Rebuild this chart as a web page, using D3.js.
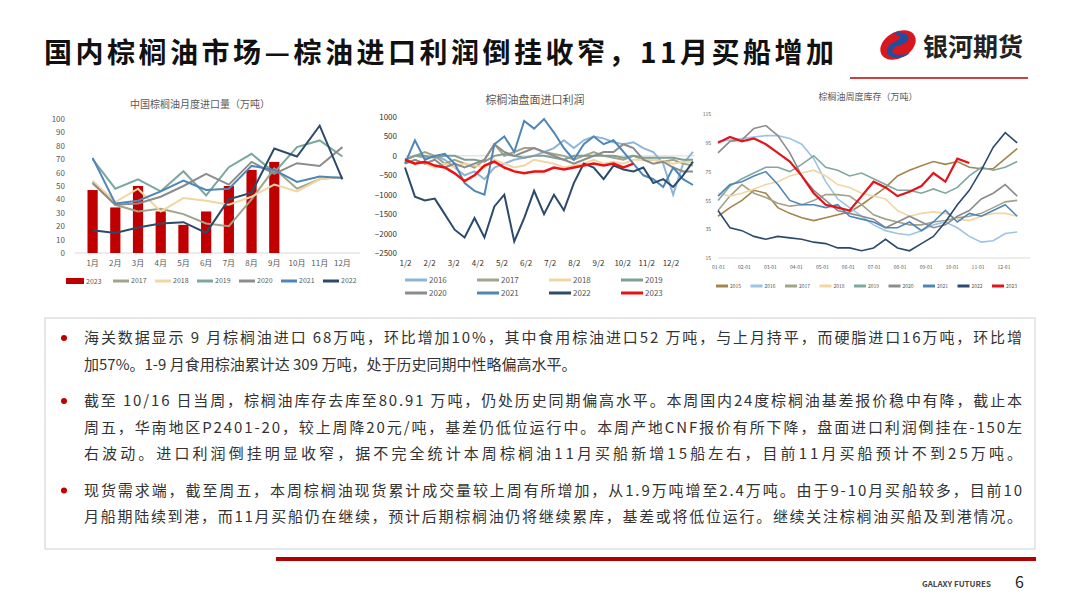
<!DOCTYPE html>
<html><head><meta charset="utf-8">
<script src="https://cdn.jsdelivr.net/npm/d3@7"></script>
<style>
body{margin:0;background:#fff;font-family:"Noto Sans CJK SC","Noto Sans",sans-serif}
svg text{font-family:"Noto Sans CJK SC","Noto Sans",sans-serif}
</style></head><body>
<svg id="slide" width="1080" height="608"></svg>
<script>
// ---- chart 1: monthly imports (万吨)
var months = ['1月','2月','3月','4月','5月','6月','7月','8月','9月','10月','11月','12月'];
var imp2023 = [47,34,50,31,21,31,50,62,68];
var imp2017 = [53,36,31,33,29,22,20,40,63,48,55,57];
var imp2018 = [54,38,48,31,41,39,36,42,51,46,55,57];
var imp2019 = [70,48,55,46,61,43,64,74,60,79,84,72];
var imp2020 = [52,36,37,42,50,59,51,68,59,67,65,79];
var imp2021 = [71,37,39,46,54,47,48,65,62,53,57,56];
var imp2022 = [17,15,19,22,23,15,40,45,78,72,95,55];

// ---- chart 2: import profit, ~every 12.5 days
var prf2016 = [-100,0,-50,0,-100,-300,-500,-400,-600,-300,-200,-100,-50,0,100,200,400,200,400,500,450,350,300,350,200,100,-200,-1000,-200,100];
var prf2017 = [-100,0,100,0,-200,-100,-200,-300,-100,300,0,100,200,200,100,50,0,-100,0,100,0,-50,-100,0,-100,-100,-150,-100,-200,-250];
var prf2018 = [-200,-100,-200,-300,-200,-300,-200,-250,-300,-100,-200,-300,-250,-100,-150,-200,-300,-250,-200,-100,-200,-150,-200,-100,-100,-100,-150,-200,-150,-150];
var prf2019 = [-100,0,0,-50,0,0,-100,-100,-150,0,50,0,-50,0,0,-50,-100,0,0,0,0,0,-50,0,-50,-50,-50,-50,-100,-100];
var prf2020 = [-200,-100,-200,-100,-300,-200,-300,-200,-100,300,100,0,100,200,100,0,-100,-200,-100,0,100,100,300,200,-100,-200,-150,-300,-400,-400];
var prf2021 = [-200,400,-100,0,50,-200,-700,-900,-1000,300,500,100,900,700,950,600,200,-100,300,500,300,400,100,-200,-500,-600,-800,-300,-600,-750];
var prf2022 = [-300,-1050,-1150,-1100,-1500,-1900,-2100,-1600,-2100,-1300,-1000,-2200,-1600,-900,-1500,-1000,-1400,-700,-200,-300,-600,-250,-350,-400,-300,-700,-600,-800,-500,-150];
var prf2023 = [-100,-200,-150,-250,-300,-450,-650,-500,-250,-150,-300,-400,-450,-400,-400,-300,-350,-300,-250,-200,-250,-200,-300,-200];
var prfTicks = ['1/2','2/2','3/2','4/2','5/2','6/2','7/2','8/2','9/2','10/2','11/2','12/2'];

// ---- chart 3: weekly stocks (万吨), every 14 days
var stk2015 = [44,50,55,62,60,50,46,43,41,43,45,47,52,58,64,72,76,79,82,80,82,78,77,77,84,91];
var stk2016 = [96,97,98,99,100,100,98,94,84,68,56,50,44,38,34,32,31,34,38,40,36,30,26,27,32,33];
var stk2017 = [48,58,66,60,57,53,51,52,55,59,59,58,52,45,42,40,38,38,40,41,43,44,46,50,54,55];
var stk2018 = [60,58,60,63,66,68,72,74,76,72,66,64,60,58,56,48,44,46,47,46,42,41,44,46,46,44];
var stk2019 = [55,65,70,74,78,78,75,80,86,78,76,72,74,70,66,62,62,60,63,60,64,72,78,76,78,82];
var stk2020 = [88,96,97,105,107,100,88,72,62,55,48,46,44,42,36,40,44,40,36,38,44,48,56,60,66,58];
var stk2021 = [58,66,68,72,75,66,55,52,52,50,52,44,42,40,36,36,40,34,40,48,40,46,44,48,52,44];
var stk2022 = [48,36,34,30,28,30,29,28,26,25,22,22,20,22,28,22,20,25,30,40,52,62,76,92,102,95];
var stk2023 = [95,99,96,98,94,88,82,72,60,52,50,48,58,68,64,58,61,65,74,68,84,81];
var stkTicks = ['01-01','02-01','03-01','04-01','05-01','06-01','07-01','08-01','09-01','10-01','11-01','12-01'];

var svg = d3.select('#slide');
var grey = '#595959';
var fmt = d3.format('d');

function legendItem(g, x, y, label, color, w, fs) {
  g.append('line').attr('x1', x).attr('x2', x + w).attr('y1', y).attr('y2', y)
    .attr('stroke', color).attr('stroke-width', 3);
  g.append('text').attr('x', x + w + 2).attr('y', y + fs * 0.35)
    .attr('font-size', fs).attr('fill', grey).text(label);
}

// header
svg.append('text').attr('x', 44).attr('y', 63).attr('font-size', 28).attr('font-weight', 700)
  .attr('textLength', 790).attr('fill', '#111').text('国内棕榈油市场—棕油进口利润倒挂收窄，11月买船增加');
var logo = svg.append('g').attr('transform', 'translate(898,45)');
logo.append('ellipse').attr('rx', 19).attr('ry', 13).attr('fill', '#d7181f').attr('transform', 'rotate(-30)');
logo.append('path').attr('d', 'M-6,-12 C10,-16 18,-4 2,0 C-12,4 -6,14 12,8 C4,16 -16,14 -10,2 C-4,-6 12,-6 -6,-12Z').attr('fill', '#1e4fa0');
svg.append('text').attr('x', 923).attr('y', 56).attr('font-size', 25).attr('font-weight', 700)
  .attr('fill', '#222').text('银河期货');
svg.append('line').attr('x1', 850).attr('x2', 1028).attr('y1', 78).attr('y2', 78)
  .attr('stroke', '#c00000').attr('stroke-width', 1.5);

// ---------- chart 1
(function() {
  var g = svg.append('g');
  var x = d3.scaleBand().domain(months).range([75, 360]).padding(0.55);
  var y = d3.scaleLinear().domain([0, 100]).range([253, 119]);
  g.append('text').attr('x', 200).attr('y', 108).attr('text-anchor', 'middle')
    .attr('font-size', 10).attr('fill', grey).text('中国棕榈油月度进口量（万吨）');
  g.append('g').attr('transform', 'translate(68,0)')
    .call(d3.axisLeft(y).ticks(10).tickSize(0))
    .call(function(a) { a.select('.domain').remove(); a.selectAll('text').attr('font-size', 8).attr('fill', grey); });
  g.append('line').attr('x1', 75).attr('x2', 360).attr('y1', 253).attr('y2', 253).attr('stroke', '#d9d9d9');
  g.append('g').attr('transform', 'translate(0,253)')
    .call(d3.axisBottom(x).tickSize(0).tickPadding(7))
    .call(function(a) { a.select('.domain').remove(); a.selectAll('text').attr('font-size', 8).attr('fill', grey); });
  g.selectAll('rect.bar').data(imp2023).enter().append('rect')
    .attr('x', function(d, i) { return x(months[i]); }).attr('width', x.bandwidth())
    .attr('y', function(d) { return y(d); }).attr('height', function(d) { return y(0) - y(d); })
    .attr('fill', '#c00000');
  var series = [
    ['2017', imp2017, '#9ea58a'], ['2018', imp2018, '#f1d6a4'], ['2019', imp2019, '#7aa89c'],
    ['2020', imp2020, '#8c8c8c'], ['2021', imp2021, '#4f86b8'], ['2022', imp2022, '#2c4a6a']
  ];
  var line = d3.line().x(function(d, i) { return x(months[i]) + x.bandwidth() / 2; }).y(function(d) { return y(d); });
  series.forEach(function(s) {
    g.append('path').datum(s[1]).attr('d', line).attr('fill', 'none')
      .attr('stroke', s[2]).attr('stroke-width', 2);
  });
  var lg = g.append('g');
  lg.append('rect').attr('x', 66).attr('y', 278).attr('width', 18).attr('height', 6).attr('fill', '#c00000');
  lg.append('text').attr('x', 86).attr('y', 284).attr('font-size', 7).attr('fill', grey).text('2023');
  series.forEach(function(s, i) { legendItem(lg, 113 + i * 42, 281, s[0], s[2], 16, 7); });
})();

// ---------- chart 2
(function() {
  var g = svg.append('g');
  var x = d3.scaleLinear().domain([0, 365]).range([405, 695]);
  var y = d3.scaleLinear().domain([-2500, 1000]).range([253, 117]);
  g.append('text').attr('x', 535).attr('y', 104).attr('text-anchor', 'middle')
    .attr('font-size', 11).attr('fill', grey).text('棕榈油盘面进口利润');
  g.append('g').attr('transform', 'translate(400,0)')
    .call(d3.axisLeft(y).tickValues(d3.range(-2500, 1001, 500)).tickFormat(fmt).tickSize(0))
    .call(function(a) { a.select('.domain').remove(); a.selectAll('text').attr('font-size', 8).attr('fill', '#333'); });
  g.append('line').attr('x1', 405).attr('x2', 695).attr('y1', y(0)).attr('y2', y(0)).attr('stroke', '#d9d9d9');
  var tx = d3.scalePoint().domain(prfTicks).range([405, 405 + 334 * 290 / 365]);
  g.append('g').attr('transform', 'translate(0,258)')
    .call(d3.axisBottom(tx).tickSize(0).tickPadding(2))
    .call(function(a) { a.select('.domain').remove(); a.selectAll('text').attr('font-size', 8).attr('fill', '#333'); });
  var series = [
    ['2016', prf2016, '#8fb4d9'], ['2017', prf2017, '#a3a38a'], ['2018', prf2018, '#f1d6a4'], ['2019', prf2019, '#7f9f90'],
    ['2020', prf2020, '#8c8c8c'], ['2021', prf2021, '#4f86b8'], ['2022', prf2022, '#2c4a6a'], ['2023', prf2023, '#ee1111']
  ];
  var line = d3.line().x(function(d, i) { return x(i * 12.5); }).y(function(d) { return y(d); });
  series.forEach(function(s) {
    g.append('path').datum(s[1]).attr('d', line).attr('fill', 'none')
      .attr('stroke', s[2]).attr('stroke-width', s[0] === '2023' ? 2.5 : 2);
  });
  var lg = g.append('g');
  series.forEach(function(s, i) {
    legendItem(lg, 405 + (i % 4) * 72, 280 + Math.floor(i / 4) * 13, s[0], s[2], 22, 8);
  });
})();

// ---------- chart 3
(function() {
  var g = svg.append('g');
  var x = d3.scaleLinear().domain([0, 365]).range([718, 1030]);
  var y = d3.scaleLinear().domain([15, 115]).range([258, 114]);
  g.append('text').attr('x', 868).attr('y', 100).attr('text-anchor', 'middle')
    .attr('font-size', 9).attr('fill', grey).text('棕榈油周度库存（万吨）');
  g.append('g').attr('transform', 'translate(714,0)')
    .call(d3.axisLeft(y).tickValues([15, 35, 55, 75, 95, 115]).tickSize(0))
    .call(function(a) { a.select('.domain').remove(); a.selectAll('text').attr('font-size', 5).attr('fill', grey); });
  g.append('line').attr('x1', 718).attr('x2', 1030).attr('y1', 258).attr('y2', 258).attr('stroke', '#d9d9d9');
  var tx = d3.scalePoint().domain(stkTicks).range([718, x(334)]);
  g.append('g').attr('transform', 'translate(0,263)')
    .call(d3.axisBottom(tx).tickSize(0).tickPadding(2))
    .call(function(a) { a.select('.domain').remove(); a.selectAll('text').attr('font-size', 5).attr('fill', grey); });
  var series = [
    ['2015', stk2015, '#a5844c'], ['2016', stk2016, '#9dc3e6'], ['2017', stk2017, '#a3a38a'], ['2018', stk2018, '#f1d6a4'],
    ['2019', stk2019, '#7fa8a0'], ['2020', stk2020, '#8c8c8c'], ['2021', stk2021, '#4f86b8'], ['2022', stk2022, '#2c4a6a'],
    ['2023', stk2023, '#e0151d']
  ];
  var line = d3.line().x(function(d, i) { return x(i * 14); }).y(function(d) { return y(d); });
  series.forEach(function(s) {
    g.append('path').datum(s[1]).attr('d', line).attr('fill', 'none')
      .attr('stroke', s[2]).attr('stroke-width', s[0] === '2023' ? 2.2 : 1.6);
  });
  var lg = g.append('g');
  series.forEach(function(s, i) { legendItem(lg, 716 + i * 34.5, 286, s[0], s[2], 12, 5); });
})();

// ---------- text box
var box = svg.append('g');
box.append('rect').attr('x', 45).attr('y', 318).attr('width', 990).attr('height', 231)
  .attr('fill', '#fff').attr('stroke', '#d0d0d0');
var paras = [
  ['海关数据显示 9 月棕榈油进口 68万吨，环比增加10%，其中食用棕油进口52 万吨，与上月持平，而硬脂进口16万吨，环比增',
   '加57%。1-9 月食用棕油累计达 309 万吨，处于历史同期中性略偏高水平。'],
  ['截至 10/16 日当周，棕榈油库存去库至80.91 万吨，仍处历史同期偏高水平。本周国内24度棕榈油基差报价稳中有降，截止本',
   '周五，华南地区P2401-20，较上周降20元/吨，基差仍低位运行中。本周产地CNF报价有所下降，盘面进口利润倒挂在-150左',
   '右波动。进口利润倒挂明显收窄，据不完全统计本周棕榈油11月买船新增15船左右，目前11月买船预计不到25万吨。'],
  ['现货需求端，截至周五，本周棕榈油现货累计成交量较上周有所增加，从1.9万吨增至2.4万吨。由于9-10月买船较多，目前10',
   '月船期陆续到港，而11月买船仍在继续，预计后期棕榈油仍将继续累库，基差或将低位运行。继续关注棕榈油买船及到港情况。']
];
var ty = 343;
paras.forEach(function(p) {
  box.append('circle').attr('cx', 64).attr('cy', ty - 5).attr('r', 3).attr('fill', '#c00000');
  p.forEach(function(l) {
    box.append('text').attr('x', 84).attr('y', ty).attr('font-size', 15).attr('fill', '#333')
      .attr('textLength', l.length > 50 ? 938 : null).text(l);
    ty += 26.5;
  });
  ty += 10;
});

// footer
svg.append('rect').attr('x', 276).attr('y', 557).attr('width', 760).attr('height', 4).attr('fill', '#b00000');
svg.append('text').attr('x', 922).attr('y', 587).attr('font-size', 8).attr('font-weight', 700)
  .attr('fill', '#444').text('GALAXY FUTURES');
svg.append('text').attr('x', 1015).attr('y', 588).attr('font-size', 16).attr('fill', '#222').text('6');
</script>
</body></html>
